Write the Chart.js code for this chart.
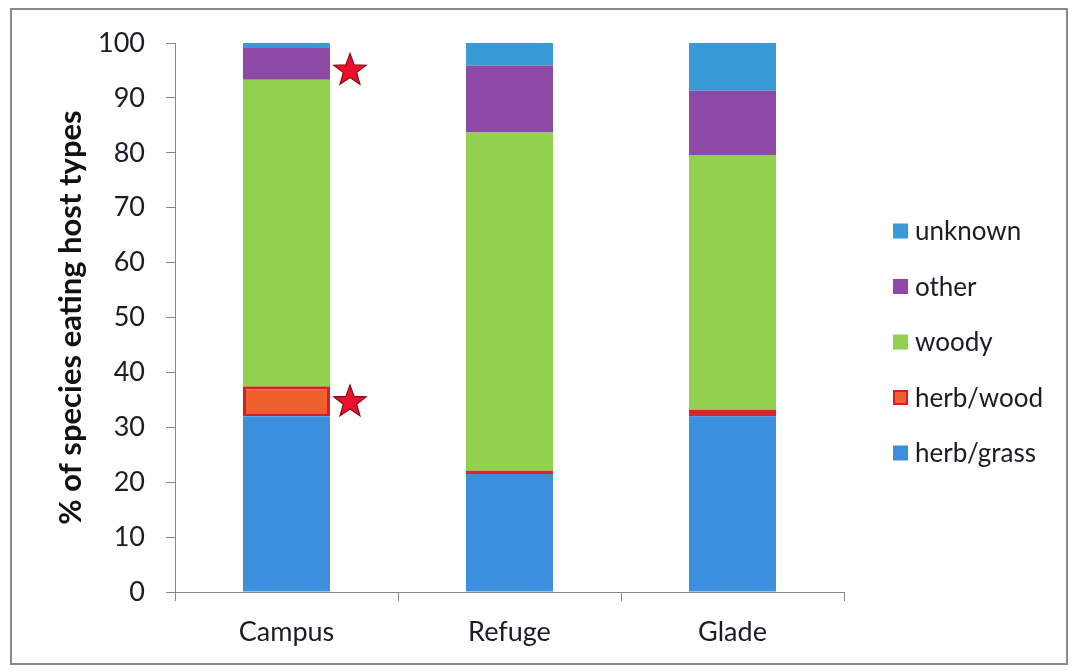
<!DOCTYPE html>
<html>
<head>
<meta charset="utf-8">
<script src="https://cdn.jsdelivr.net/npm/chart.js@4/dist/chart.umd.min.js"></script>
<style>
  html, body { margin: 0; padding: 0; background: #fff; }
  #frame {
    position: absolute; left: 10px; top: 8px; width: 1058px; height: 657px;
    border: 2px solid #8a8a8a; box-sizing: border-box; background: #fff;
  }
  #chart-wrap { position: absolute; left: 0; top: 0; width: 1054px; height: 653px; }
</style>
</head>
<body>
<div id="frame"><div id="chart-wrap"><canvas id="host-chart"></canvas></div></div>
<script>
// Categories and series (percent of species)
const sites = ["Campus", "Refuge", "Glade"];
const herbGrass = [32, 21.5, 32];
const herbWood = [5.5, 0.6, 1.2];
const woody = [55.8, 61.6, 46.4];
const other = [5.8, 12.2, 11.7];
const unknown = [0.9, 4.1, 8.7];
const yTicks = [0, 10, 20, 30, 40, 50, 60, 70, 80, 90, 100];

// star markers next to Campus bar (value on y axis)
const starSite = "Campus";
const starValues = [95, 34.6];

const ctx = document.getElementById('host-chart').getContext('2d');
const fontFamily = "Lato, 'Open Sans', sans-serif";
const barPct = 0.39;

// Draw red stars beside the flagged bar
const starPlugin = {
    id: 'stars',
    afterDatasetsDraw(chart) {
        const xs = chart.scales.x;
        const ys = chart.scales.y;
        const idx = sites.indexOf(starSite);
        const barRight = xs.getPixelForValue(idx) + xs.width / sites.length * barPct / 2;
        const c = chart.ctx;
        starValues.forEach(v => {
            const cx = barRight + 20;
            const cy = ys.getPixelForValue(v);
            const outer = 17, inner = 7;
            c.save();
            c.beginPath();
            for (let i = 0; i < 10; i++) {
                const r = i % 2 === 0 ? outer : inner;
                const a = -Math.PI / 2 + i * Math.PI / 5;
                c.lineTo(cx + r * Math.cos(a), cy + r * Math.sin(a));
            }
            c.closePath();
            c.fillStyle = '#e8102a';
            c.fill();
            c.strokeStyle = '#8a0a14';
            c.lineWidth = 1.2;
            c.stroke();
            c.restore();
        });
    }
};

// Legend on the right, top item = last dataset
const legendPlugin = {
    id: 'sideLegend',
    afterDraw(chart) {
        const c = chart.ctx;
        const sets = chart.data.datasets.slice().reverse();
        const boxX = 881, firstY = 221, step = 55.5, box = 15;
        c.save();
        c.font = "26px " + fontFamily;
        c.textBaseline = 'middle';
        c.textAlign = 'left';
        sets.forEach((ds, i) => {
            const y = firstY + i * step;
            c.fillStyle = ds.legendColor;
            c.fillRect(boxX, y - box / 2, box, box);
            if (ds.legendBorder) {
                c.strokeStyle = ds.legendBorder;
                c.lineWidth = 2;
                c.strokeRect(boxX + 1, y - box / 2 + 1, box - 2, box - 2);
            }
            c.fillStyle = '#1c1a28';
            c.fillText(ds.label, boxX + box + 7, y + 1);
        });
        c.restore();
    }
};

new Chart(ctx, {
    type: 'bar',
    data: {
        labels: sites,
        datasets: [
            { label: 'herb/grass', data: herbGrass, backgroundColor: '#3b8fdc', legendColor: '#3b8fdc', borderWidth: 0 },
            { label: 'herb/wood', data: herbWood, backgroundColor: ['#f0602e', '#e0222e', '#e0222e'], legendColor: '#f0602e', legendBorder: '#d81c28', borderColor: '#d81c28', borderWidth: [3, 0, 0], borderSkipped: false },
            { label: 'woody', data: woody, backgroundColor: '#92d050', legendColor: '#92d050', borderWidth: 0 },
            { label: 'other', data: other, backgroundColor: '#8c4aa6', legendColor: '#8c4aa6', borderWidth: 0 },
            { label: 'unknown', data: unknown, backgroundColor: '#3a9ad8', legendColor: '#3a9ad8', borderWidth: 0 }
        ]
    },
    options: {
        responsive: true,
        maintainAspectRatio: false,
        animation: false,
        layout: { padding: { top: 33, right: 222, bottom: 0, left: 0 } },
        datasets: { bar: { barPercentage: barPct, categoryPercentage: 1.0 } },
        plugins: {
            legend: { display: false },
            tooltip: { enabled: false }
        },
        scales: {
            x: {
                stacked: true,
                afterFit(axis) { axis.height = 71; axis.paddingLeft = 0; axis.paddingRight = 0; },
                grid: { display: true, drawOnChartArea: false, drawTicks: true, tickLength: 9, color: '#888', offset: true },
                border: { color: '#888', width: 1 },
                ticks: { color: '#1c1a28', font: { family: fontFamily, size: 27 }, padding: 15 }
            },
            y: {
                stacked: true,
                min: 0,
                max: 100,
                afterFit(axis) { axis.width = 163; axis.paddingTop = 0; axis.paddingBottom = 0; },
                afterBuildTicks(axis) { axis.ticks = yTicks.map(v => ({ value: v })); },
                grid: { display: true, drawOnChartArea: false, drawTicks: true, tickLength: 9, color: '#888' },
                border: { color: '#888', width: 1 },
                ticks: { color: '#1c1a28', font: { family: fontFamily, size: 27 }, padding: 21 },
                title: {
                    display: true,
                    text: '% of species eating host types',
                    color: '#111',
                    font: { family: fontFamily, size: 31, weight: 'bold' },
                    padding: { top: 40, bottom: 0 }
                }
            }
        }
    },
    plugins: [starPlugin, legendPlugin]
});
</script>
</body>
</html>
